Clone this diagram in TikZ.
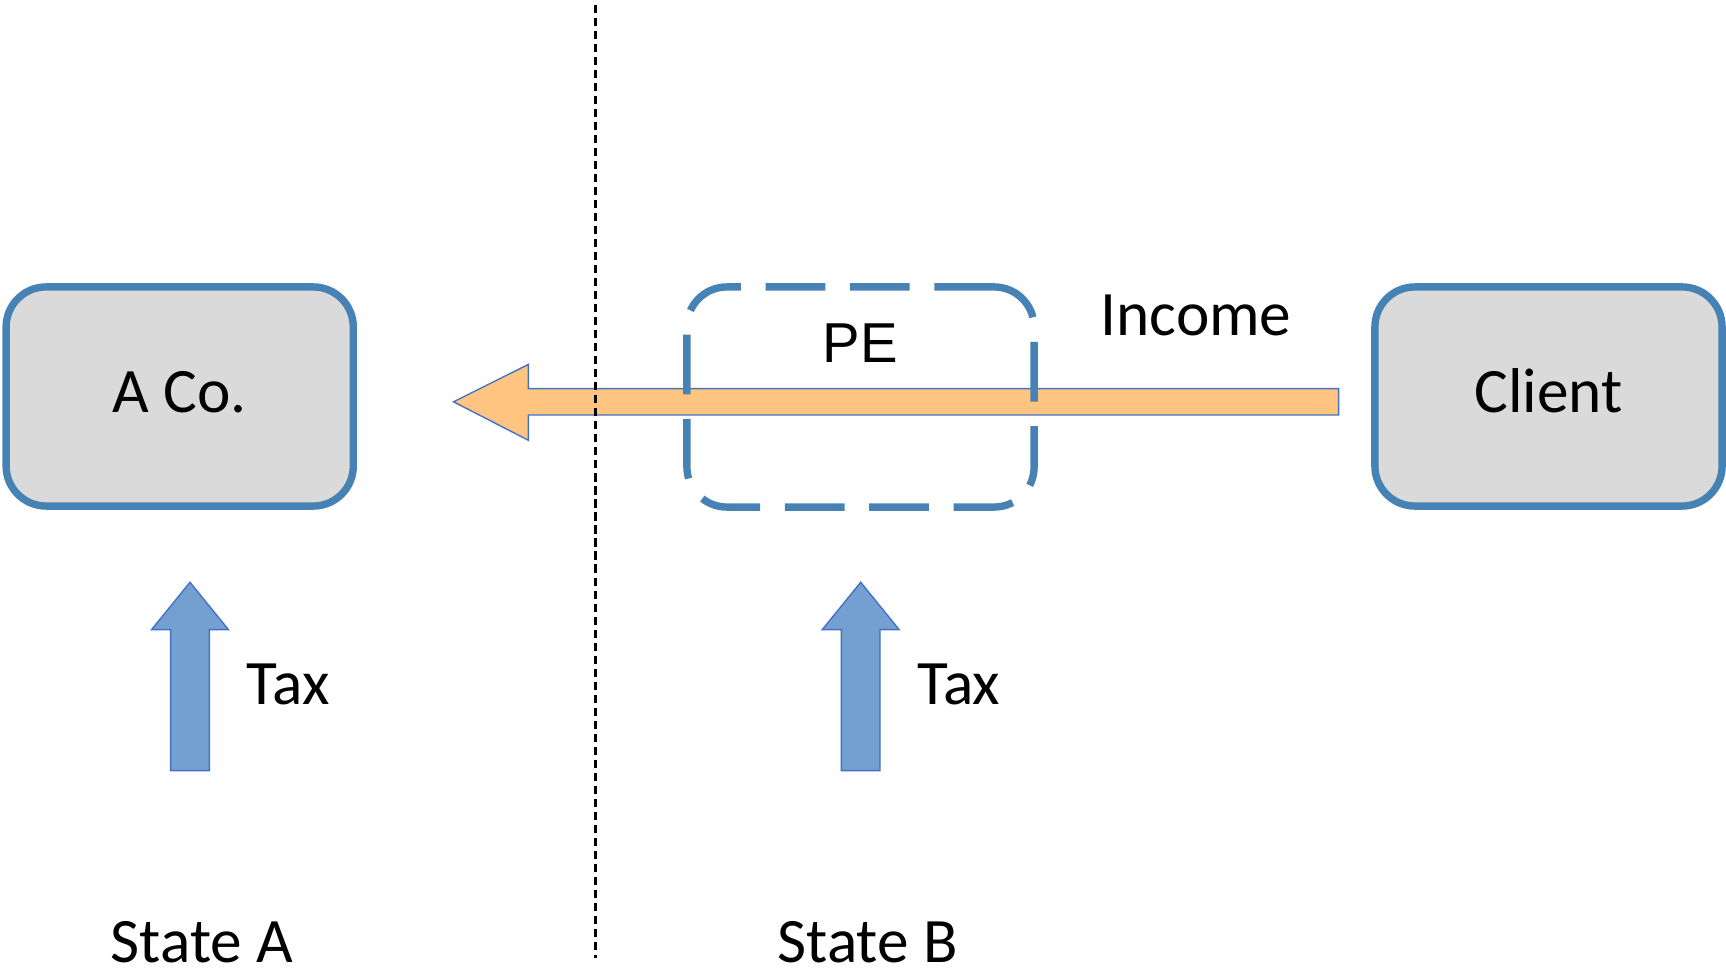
\documentclass[tikz,border=0pt]{standalone}
\usepackage{fontspec}
\setmainfont{Carlito}
\newfontfamily\arialfont{Liberation Sans}
\usetikzlibrary{shapes,calc}

\definecolor{boxline}{RGB}{70,130,180}
\definecolor{boxfill}{RGB}{218,218,218}
\definecolor{incomefill}{RGB}{255,196,128}
\definecolor{taxfill}{RGB}{115,160,208}
\definecolor{arrowline}{RGB}{68,114,196}

\begin{document}
\begin{tikzpicture}[x=0.01cm,y=-0.01cm]
        \tikzstyle{every node}=[font=\fontsize{18}{22}\selectfont,inner sep=1pt]

        \tikzstyle{party}=[draw=boxline,fill=boxfill,line width=2.1pt,rounded corners=0.4cm,minimum width=3.47cm,minimum height=2.19cm,text height=11.6pt,text depth=2.5pt]
        \tikzstyle{pebox}=[draw=boxline,line width=2.1pt,dash pattern=on 17pt off 7pt,rounded corners=0.4cm,minimum width=3.47cm,minimum height=2.2cm]
        \tikzstyle{flow}=[draw=arrowline,line width=0.4pt]
        \tikzstyle{divider}=[draw=black,line width=0.6pt,dash pattern=on 2.3pt off 1.4pt]

        \useasboundingbox (0,0) rectangle (1726,970);

        % companies
        \node [party] (aco) at (179.7,396.5) {A Co.};
        \node [party] (client) at (1548.5,396.5) {Client};

        % income flowing back to A Co.
        \coordinate (tail) at (1338.6,401.8);
        \coordinate (tip) at (453.5,401.8);
        \draw [flow,fill=incomefill] ($(tail)+(0,-13.2)$) -- (528.4,388.6) -- (528.4,364.4)
              -- (tip) -- (528.4,440.3) -- (528.4,415) -- ($(tail)+(0,13.2)$) -- cycle;

        % permanent establishment
        \node [pebox] (pe) at (860.5,397) {};
        \node [font=\arialfont\fontsize{16}{19}\selectfont] (pelabel) at (860,343.5) {PE};
        \node (income) at (1196,315) {Income};

        % border between the states
        \coordinate (divtop) at (595.5,5);
        \coordinate (divbot) at (595.5,958);
        \draw [divider] (divtop) -- (divbot);

        % tax arrows
        \foreach \cx/\nm in {190/a, 860.7/b} {
            \draw [flow,fill=taxfill] (\cx-19.3,770.6) -- (\cx-19.3,629.7) -- (\cx-38.5,629.7)
                  -- (\cx,582.3) -- (\cx+38.5,629.7) -- (\cx+19.3,629.7) -- (\cx+19.3,770.6) -- cycle;
            \node (tax\nm) at (\cx+98,684.7) {Tax};
        };

        \node [inner sep=0pt] (statea) at (202,942) {State A};
        \node [inner sep=0pt] (stateb) at (867.5,942) {State B};

\end{tikzpicture}
\end{document}
